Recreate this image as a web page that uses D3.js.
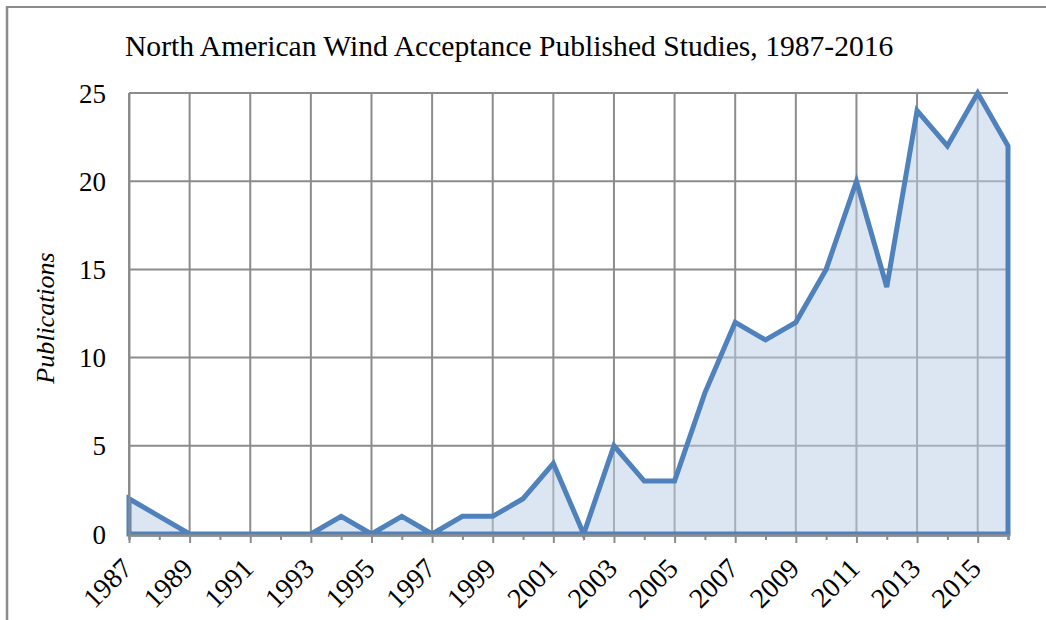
<!DOCTYPE html>
<html>
<head>
<meta charset="utf-8">
<script src="https://cdn.jsdelivr.net/npm/d3@7/dist/d3.min.js"></script>
<style>
  html, body { margin: 0; padding: 0; background: #fff; }
  svg { display: block; }
  text { font-family: "Liberation Serif", "Times New Roman", serif; fill: #000; }
</style>
</head>
<body>
<svg id="chart" width="1046" height="620"></svg>
<script>
const years = [1987,1988,1989,1990,1991,1992,1993,1994,1995,1996,1997,1998,1999,2000,2001,2002,2003,2004,2005,2006,2007,2008,2009,2010,2011,2012,2013,2014,2015,2016];
const publications = [2,1,0,0,0,0,0,1,0,1,0,1,1,2,4,0,5,3,3,8,12,11,12,15,20,14,24,22,25,22];
const yTicks = [0,5,10,15,20,25];
const xLabelYears = [1987,1989,1991,1993,1995,1997,1999,2001,2003,2005,2007,2009,2011,2013,2015];
const titleText = "North American Wind Acceptance Published Studies, 1987-2016";
const yLabelText = "Publications";

const svg = d3.select("#chart");
const L = 129, R = 1008, T = 93, B = 534;
const x = d3.scaleLinear().domain([1987, 2016]).range([L, R]);
const y = d3.scaleLinear().domain([0, 25]).range([B, T]);
const grid = "#8c8c8c";

// outer border (left and top)
svg.append("line").attr("x1", 7).attr("x2", 7).attr("y1", 6).attr("y2", 620)
  .attr("stroke", grid).attr("stroke-width", 2.5);
svg.append("line").attr("x1", 6).attr("x2", 1046).attr("y1", 7).attr("y2", 7)
  .attr("stroke", grid).attr("stroke-width", 2);

// title
svg.append("text").attr("x", 125).attr("y", 56).attr("font-size", 29.6).text(titleText);

// gridlines
const gH = svg.append("g");
yTicks.filter(d => d > 0).forEach(d => {
  gH.append("line").attr("x1", L).attr("x2", R).attr("y1", y(d)).attr("y2", y(d))
    .attr("stroke", grid).attr("stroke-width", 2);
});
xLabelYears.forEach(d => {
  gH.append("line").attr("x1", x(d)).attr("x2", x(d)).attr("y1", T).attr("y2", B)
    .attr("stroke", grid).attr("stroke-width", 2);
});

// area
const data = years.map((yr, i) => ({yr, v: publications[i]}));
const area = d3.area().x(d => x(d.yr)).y0(y(0)).y1(d => y(d.v));
svg.append("path").datum(data).attr("d", area)
  .attr("fill", "rgb(188,207,230)").attr("fill-opacity", 0.52)
  .attr("stroke", "#4F81BD").attr("stroke-width", 5).attr("stroke-linejoin", "miter");

// x axis
const xAxis = d3.axisBottom(x).tickValues(years).tickSize(5).tickFormat("");
const gx = svg.append("g").attr("transform", `translate(0,${B + 1})`).call(xAxis);
gx.select(".domain").attr("stroke", grid).attr("stroke-width", 2.5);
gx.selectAll(".tick line").attr("stroke", grid).attr("stroke-width", 2)
  .attr("y2", d => (d % 2 === 1 ? 8 : 5));

// x labels
svg.append("g").selectAll("text").data(xLabelYears).join("text")
  .attr("transform", d => `translate(${x(d) + 5},${570}) rotate(-45)`)
  .attr("text-anchor", "end").attr("font-size", 28).text(d => d);

// y axis
const yAxis = d3.axisLeft(y).tickValues(yTicks).tickSize(0).tickPadding(0).tickFormat(d => d);
const gy = svg.append("g").attr("transform", `translate(${L},0)`).call(yAxis);
gy.select(".domain").attr("stroke", grid).attr("stroke-width", 2);
gy.selectAll(".tick text").attr("x", -23).attr("dy", "0.34em")
  .attr("font-size", 27).attr("font-family", "Liberation Serif, serif").attr("fill", "#000");

// y label
svg.append("text").attr("transform", `translate(54,318) rotate(-90)`)
  .attr("text-anchor", "middle").attr("font-size", 26).attr("font-style", "italic")
  .text(yLabelText);
</script>
</body>
</html>
